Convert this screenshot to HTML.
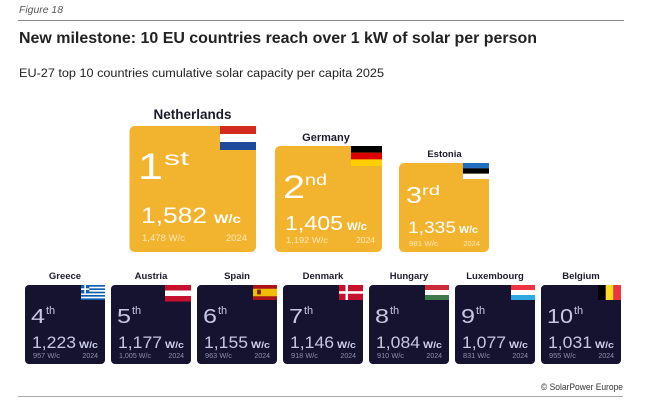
<!DOCTYPE html>
<html><head><meta charset="utf-8"><style>
html,body{margin:0;padding:0;background:#fff;}
svg{display:block;}
text{font-family:"Liberation Sans",Arial,sans-serif;}
</style></head><body>
<svg width="662" height="413" viewBox="0 0 662 413" xmlns="http://www.w3.org/2000/svg">
<rect width="662" height="413" fill="#fff"/>
<text x="19" y="13" font-size="10" font-style="italic" fill="#555" textLength="44" lengthAdjust="spacingAndGlyphs">Figure 18</text>
<line x1="18" y1="20.5" x2="624" y2="20.5" stroke="#8a8a8a" stroke-width="1"/>
<text x="19" y="43" font-size="15.5" font-weight="bold" fill="#222" textLength="518" lengthAdjust="spacingAndGlyphs">New milestone: 10 EU countries reach over 1 kW of solar per person</text>
<text x="19" y="77" font-size="11.5" fill="#222" textLength="365" lengthAdjust="spacingAndGlyphs">EU-27 top 10 countries cumulative solar capacity per capita 2025</text>

<!-- Netherlands -->
<text x="192.5" y="119" font-size="13.5" font-weight="bold" fill="#1c1b2b" text-anchor="middle">Netherlands</text>
<rect x="129.5" y="126" width="126.5" height="126" rx="5" fill="#F2B42F"/>
<rect x="220" y="126" width="36" height="8" fill="#D52B1E"/>
<rect x="220" y="134" width="36" height="8" fill="#fff"/>
<rect x="220" y="142" width="36" height="8" fill="#1E4A9E"/>
<text x="138" y="179" font-size="37" fill="#fff" textLength="25" lengthAdjust="spacingAndGlyphs">1</text>
<text x="164" y="165" font-size="19" fill="#fff" textLength="25" lengthAdjust="spacingAndGlyphs">st</text>
<text x="141" y="223" font-size="22" fill="#fff" textLength="66" lengthAdjust="spacingAndGlyphs">1,582</text>
<text x="214" y="223" font-size="12" font-weight="bold" fill="#fff" textLength="27" lengthAdjust="spacingAndGlyphs">W/c</text>
<text x="142" y="241" font-size="9.5" fill="#FCE7B8" textLength="43" lengthAdjust="spacingAndGlyphs">1,478 W/c</text>
<text x="247" y="241" font-size="9.5" fill="#FCE7B8" text-anchor="end">2024</text>

<!-- Germany -->
<text x="326" y="141" font-size="11" font-weight="bold" fill="#1c1b2b" text-anchor="middle">Germany</text>
<rect x="275" y="146" width="107" height="106" rx="5" fill="#F2B42F"/>
<rect x="351" y="146" width="31" height="6.7" fill="#000"/>
<rect x="351" y="152.7" width="31" height="6.7" fill="#DD0000"/>
<rect x="351" y="159.4" width="31" height="6.6" fill="#FFCE00"/>
<text x="283" y="198" font-size="32" fill="#fff" textLength="22" lengthAdjust="spacingAndGlyphs">2</text>
<text x="305" y="185" font-size="16" fill="#fff" textLength="22" lengthAdjust="spacingAndGlyphs">nd</text>
<text x="285" y="230" font-size="20" fill="#fff" textLength="58" lengthAdjust="spacingAndGlyphs">1,405</text>
<text x="347" y="230" font-size="11" font-weight="bold" fill="#fff" textLength="20" lengthAdjust="spacingAndGlyphs">W/c</text>
<text x="286" y="243" font-size="8.5" fill="#FCE7B8" textLength="42" lengthAdjust="spacingAndGlyphs">1,192 W/c</text>
<text x="375" y="243" font-size="8.5" fill="#FCE7B8" text-anchor="end">2024</text>

<!-- Estonia -->
<text x="444.5" y="157" font-size="9.5" font-weight="bold" fill="#1c1b2b" text-anchor="middle">Estonia</text>
<rect x="399" y="163" width="90" height="89" rx="5" fill="#F2B42F"/>
<rect x="463" y="163" width="26" height="5.4" fill="#1F6FBF"/>
<rect x="463" y="168.4" width="26" height="5.3" fill="#000"/>
<rect x="463" y="173.7" width="26" height="5.3" fill="#fff"/>
<text x="406" y="203" font-size="23" fill="#fff" textLength="16" lengthAdjust="spacingAndGlyphs">3</text>
<text x="422" y="195" font-size="14" fill="#fff" textLength="18" lengthAdjust="spacingAndGlyphs">rd</text>
<text x="408" y="233" font-size="17" fill="#fff" textLength="48" lengthAdjust="spacingAndGlyphs">1,335</text>
<text x="459" y="233" font-size="10" font-weight="bold" fill="#fff" textLength="19" lengthAdjust="spacingAndGlyphs">W/c</text>
<text x="409" y="246" font-size="7.5" fill="#FCE7B8" textLength="29" lengthAdjust="spacingAndGlyphs">981 W/c</text>
<text x="480" y="246" font-size="7.5" fill="#FCE7B8" text-anchor="end">2024</text>

<!-- Bottom row cards -->
<g id="cards">
  <!-- Greece -->
  <text x="65" y="279" font-size="9.5" font-weight="bold" fill="#1c1b2b" text-anchor="middle">Greece</text>
  <rect x="25" y="285" width="80" height="79" rx="4" fill="#15132F"/>
  <g>
    <rect x="81" y="285" width="24" height="15" fill="#0D5EAF"/>
    <rect x="81" y="286.67" width="24" height="1.67" fill="#fff"/>
    <rect x="81" y="290" width="24" height="1.67" fill="#fff"/>
    <rect x="81" y="293.33" width="24" height="1.67" fill="#fff"/>
    <rect x="81" y="296.67" width="24" height="1.67" fill="#fff"/>
    <rect x="81" y="285" width="8.3" height="8.3" fill="#0D5EAF"/>
    <rect x="84.3" y="285" width="1.67" height="8.3" fill="#fff"/>
    <rect x="81" y="288.3" width="8.3" height="1.67" fill="#fff"/>
  </g>
  <text x="31" y="323" font-size="20" fill="#C6C7E2" textLength="14" lengthAdjust="spacingAndGlyphs">4</text>
  <text x="46" y="314" font-size="11" fill="#C6C7E2">th</text>
  <text x="32" y="348" font-size="16.5" fill="#C6C7E2" textLength="44" lengthAdjust="spacingAndGlyphs">1,223</text>
  <text x="79" y="348" font-size="9.5" font-weight="bold" fill="#CFD0EA" textLength="19" lengthAdjust="spacingAndGlyphs">W/c</text>
  <text x="33" y="358" font-size="7" fill="#8F90AE" textLength="27" lengthAdjust="spacingAndGlyphs">957 W/c</text>
  <text x="98" y="358" font-size="7" fill="#8F90AE" text-anchor="end">2024</text>

  <!-- Austria -->
  <text x="151" y="279" font-size="9.5" font-weight="bold" fill="#1c1b2b" text-anchor="middle">Austria</text>
  <rect x="111" y="285" width="80" height="79" rx="4" fill="#15132F"/>
  <rect x="165" y="285" width="26" height="5.5" fill="#C8102E"/>
  <rect x="165" y="290.5" width="26" height="5.5" fill="#fff"/>
  <rect x="165" y="296" width="26" height="5.5" fill="#C8102E"/>
  <text x="117" y="323" font-size="20" fill="#C6C7E2" textLength="14" lengthAdjust="spacingAndGlyphs">5</text>
  <text x="132" y="314" font-size="11" fill="#C6C7E2">th</text>
  <text x="118" y="348" font-size="16.5" fill="#C6C7E2" textLength="44" lengthAdjust="spacingAndGlyphs">1,177</text>
  <text x="165" y="348" font-size="9.5" font-weight="bold" fill="#CFD0EA" textLength="19" lengthAdjust="spacingAndGlyphs">W/c</text>
  <text x="119" y="358" font-size="7" fill="#8F90AE" textLength="32" lengthAdjust="spacingAndGlyphs">1,005 W/c</text>
  <text x="184" y="358" font-size="7" fill="#8F90AE" text-anchor="end">2024</text>

  <!-- Spain -->
  <text x="237" y="279" font-size="9.5" font-weight="bold" fill="#1c1b2b" text-anchor="middle">Spain</text>
  <rect x="197" y="285" width="80" height="79" rx="4" fill="#15132F"/>
  <rect x="253" y="285" width="24" height="15" fill="#AA151B"/>
  <rect x="253" y="288.75" width="24" height="7.5" fill="#F1BF00"/>
  <rect x="257" y="289.5" width="4" height="5" rx="1" fill="#7a2a10"/>
  <text x="203" y="323" font-size="20" fill="#C6C7E2" textLength="14" lengthAdjust="spacingAndGlyphs">6</text>
  <text x="218" y="314" font-size="11" fill="#C6C7E2">th</text>
  <text x="204" y="348" font-size="16.5" fill="#C6C7E2" textLength="44" lengthAdjust="spacingAndGlyphs">1,155</text>
  <text x="251" y="348" font-size="9.5" font-weight="bold" fill="#CFD0EA" textLength="19" lengthAdjust="spacingAndGlyphs">W/c</text>
  <text x="205" y="358" font-size="7" fill="#8F90AE" textLength="27" lengthAdjust="spacingAndGlyphs">963 W/c</text>
  <text x="270" y="358" font-size="7" fill="#8F90AE" text-anchor="end">2024</text>

  <!-- Denmark -->
  <text x="323" y="279" font-size="9.5" font-weight="bold" fill="#1c1b2b" text-anchor="middle">Denmark</text>
  <rect x="283" y="285" width="80" height="79" rx="4" fill="#15132F"/>
  <rect x="339" y="285" width="24" height="15" fill="#C8102E"/>
  <rect x="345.5" y="285" width="2.5" height="15" fill="#fff"/>
  <rect x="339" y="291.2" width="24" height="2.5" fill="#fff"/>
  <text x="289" y="323" font-size="20" fill="#C6C7E2" textLength="14" lengthAdjust="spacingAndGlyphs">7</text>
  <text x="304" y="314" font-size="11" fill="#C6C7E2">th</text>
  <text x="290" y="348" font-size="16.5" fill="#C6C7E2" textLength="44" lengthAdjust="spacingAndGlyphs">1,146</text>
  <text x="337" y="348" font-size="9.5" font-weight="bold" fill="#CFD0EA" textLength="19" lengthAdjust="spacingAndGlyphs">W/c</text>
  <text x="291" y="358" font-size="7" fill="#8F90AE" textLength="27" lengthAdjust="spacingAndGlyphs">918 W/c</text>
  <text x="356" y="358" font-size="7" fill="#8F90AE" text-anchor="end">2024</text>

  <!-- Hungary -->
  <text x="409" y="279" font-size="9.5" font-weight="bold" fill="#1c1b2b" text-anchor="middle">Hungary</text>
  <rect x="369" y="285" width="80" height="79" rx="4" fill="#15132F"/>
  <rect x="425" y="285" width="24" height="5" fill="#CD2A3E"/>
  <rect x="425" y="290" width="24" height="5" fill="#fff"/>
  <rect x="425" y="295" width="24" height="5" fill="#3F7A4D"/>
  <text x="375" y="323" font-size="20" fill="#C6C7E2" textLength="14" lengthAdjust="spacingAndGlyphs">8</text>
  <text x="390" y="314" font-size="11" fill="#C6C7E2">th</text>
  <text x="376" y="348" font-size="16.5" fill="#C6C7E2" textLength="44" lengthAdjust="spacingAndGlyphs">1,084</text>
  <text x="423" y="348" font-size="9.5" font-weight="bold" fill="#CFD0EA" textLength="19" lengthAdjust="spacingAndGlyphs">W/c</text>
  <text x="377" y="358" font-size="7" fill="#8F90AE" textLength="27" lengthAdjust="spacingAndGlyphs">910 W/c</text>
  <text x="442" y="358" font-size="7" fill="#8F90AE" text-anchor="end">2024</text>

  <!-- Luxembourg -->
  <text x="495" y="279" font-size="9.5" font-weight="bold" fill="#1c1b2b" text-anchor="middle">Luxembourg</text>
  <rect x="455" y="285" width="80" height="79" rx="4" fill="#15132F"/>
  <rect x="511" y="285" width="24" height="5" fill="#EF3340"/>
  <rect x="511" y="290" width="24" height="5" fill="#fff"/>
  <rect x="511" y="295" width="24" height="5" fill="#2FA8E0"/>
  <text x="461" y="323" font-size="20" fill="#C6C7E2" textLength="14" lengthAdjust="spacingAndGlyphs">9</text>
  <text x="476" y="314" font-size="11" fill="#C6C7E2">th</text>
  <text x="462" y="348" font-size="16.5" fill="#C6C7E2" textLength="44" lengthAdjust="spacingAndGlyphs">1,077</text>
  <text x="509" y="348" font-size="9.5" font-weight="bold" fill="#CFD0EA" textLength="19" lengthAdjust="spacingAndGlyphs">W/c</text>
  <text x="463" y="358" font-size="7" fill="#8F90AE" textLength="27" lengthAdjust="spacingAndGlyphs">831 W/c</text>
  <text x="528" y="358" font-size="7" fill="#8F90AE" text-anchor="end">2024</text>

  <!-- Belgium -->
  <text x="581" y="279" font-size="9.5" font-weight="bold" fill="#1c1b2b" text-anchor="middle">Belgium</text>
  <rect x="541" y="285" width="80" height="79" rx="4" fill="#15132F"/>
  <rect x="598" y="285" width="7.7" height="15" fill="#000"/>
  <rect x="605.7" y="285" width="7.7" height="15" fill="#FDDA24"/>
  <rect x="613.4" y="285" width="7.6" height="15" fill="#EF3340"/>
  <text x="547" y="323" font-size="20" fill="#C6C7E2" textLength="26" lengthAdjust="spacingAndGlyphs">10</text>
  <text x="574" y="314" font-size="11" fill="#C6C7E2">th</text>
  <text x="548" y="348" font-size="16.5" fill="#C6C7E2" textLength="44" lengthAdjust="spacingAndGlyphs">1,031</text>
  <text x="595" y="348" font-size="9.5" font-weight="bold" fill="#CFD0EA" textLength="19" lengthAdjust="spacingAndGlyphs">W/c</text>
  <text x="549" y="358" font-size="7" fill="#8F90AE" textLength="27" lengthAdjust="spacingAndGlyphs">955 W/c</text>
  <text x="614" y="358" font-size="7" fill="#8F90AE" text-anchor="end">2024</text>
</g>

<text x="623" y="390" font-size="9.5" fill="#333" text-anchor="end" textLength="82" lengthAdjust="spacingAndGlyphs">© SolarPower Europe</text>
<line x1="18" y1="396.5" x2="623" y2="396.5" stroke="#aaa" stroke-width="1"/>
</svg>
</body></html>
